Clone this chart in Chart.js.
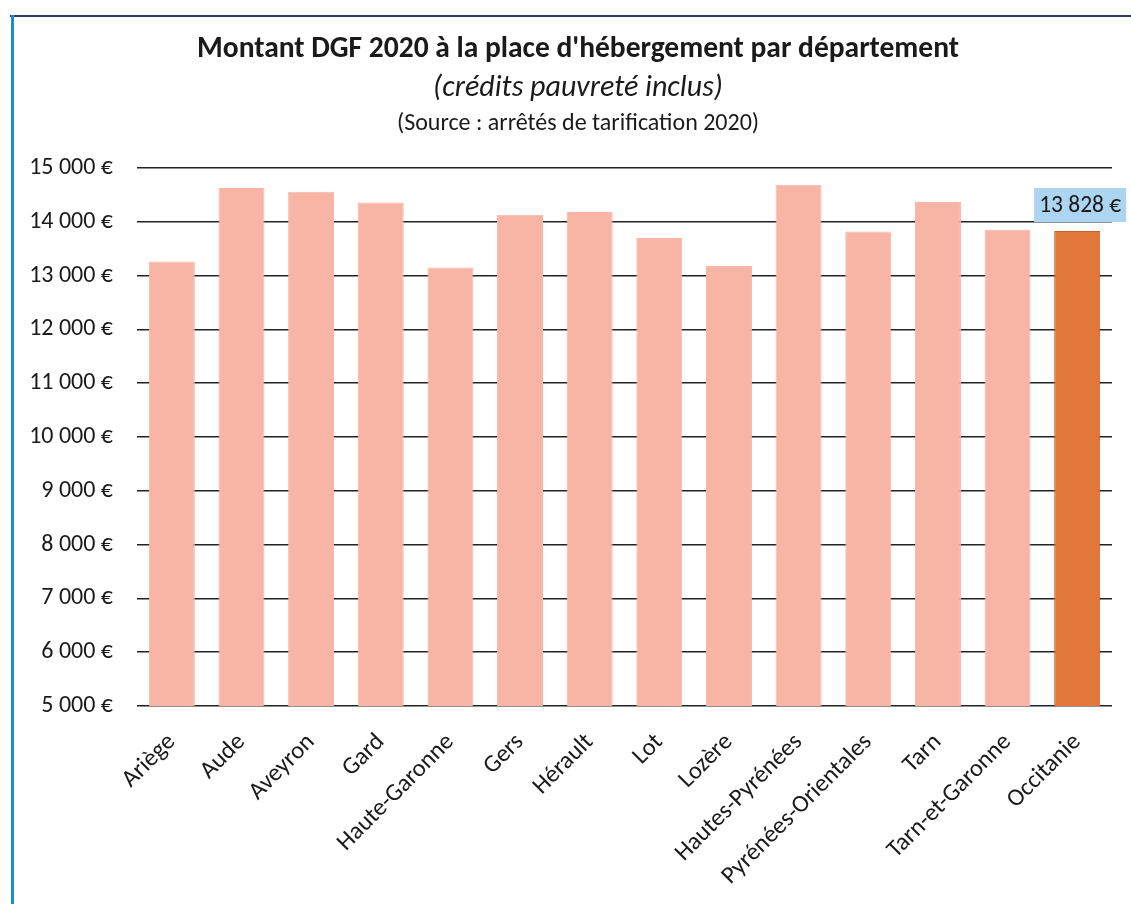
<!DOCTYPE html>
<html lang="fr">
<head>
<meta charset="utf-8">
<title>Montant DGF 2020 à la place d'hébergement par département</title>
<script src="https://cdn.jsdelivr.net/npm/chart.js@4.4.1/dist/chart.umd.min.js"></script>
<style>
  html, body { margin: 0; padding: 0; background: #fff; }
  #wrap { position: relative; width: 1131px; height: 904px; overflow: hidden; }
  #frameTop { position: absolute; left: 10px; top: 15px; width: 1121px; height: 0; border-top: 2px solid #2b3b6b; }
  #frameLeft { position: absolute; left: 11px; top: 15px; width: 0; height: 889px; border-left: 3px solid #1b8bd3; }
  canvas { position: absolute; left: 0; top: 0; }
</style>
</head>
<body>
<div id="wrap">
  <canvas id="dgfChart" width="1131" height="904"></canvas>
  <div id="frameTop"></div>
  <div id="frameLeft"></div>
</div>
<script>
const departements = [
  "Ariège", "Aude", "Aveyron", "Gard", "Haute-Garonne", "Gers", "Hérault",
  "Lot", "Lozère", "Hautes-Pyrénées", "Pyrénées-Orientales", "Tarn",
  "Tarn-et-Garonne", "Occitanie"
];
const montants = [
  13260, 14630, 14560, 14360, 13150, 14130, 14180,
  13700, 13180, 14690, 13820, 14370, 13850, 13828
];
const titres = [
  "Montant DGF 2020 à la place d'hébergement par département",
  "(crédits pauvreté inclus)",
  "(Source : arrêtés de tarification 2020)"
];
const yMin = 5000;
const yMax = 15000;
const yStep = 1000;

const couleurDept = "#f8b4a5";
const couleurRegion = "#e2773b";
const police = "Carlito, Lato, 'Liberation Sans', sans-serif";

function euro(v) {
  const s = Math.round(v).toString().replace(/\B(?=(\d{3})+(?!\d))/g, " ");
  return s + " €";
}

// the three title lines, drawn on top of the chart
const titlePlugin = {
  id: "titres",
  afterDraw(chart) {
    const c = chart.ctx;
    const cx = 578;
    c.save();
    c.fillStyle = "#1a1a1a";
    c.textAlign = "center";
    c.textBaseline = "middle";
    c.font = "bold 29.5px " + police;
    c.fillText(titres[0], cx, 50);
    c.font = "italic 30px " + police;
    c.fillText(titres[1], cx, 88);
    c.font = "24px " + police;
    c.fillText(titres[2], cx, 124);
    c.restore();
  }
};

// value label with a light blue box over the last bar
const labelPlugin = {
  id: "etiquette",
  afterDatasetsDraw(chart) {
    const meta = chart.getDatasetMeta(0);
    const i = montants.length - 1;
    const bar = meta.data[i];
    const c = chart.ctx;
    const txt = euro(montants[i]);
    c.save();
    c.font = "23.5px " + police;
    const w = c.measureText(txt).width + 10;
    const h = 34;
    const x = bar.x - w / 2 + 3;
    const y = bar.y - 9 - h;
    c.fillStyle = "#acd5f1";
    c.fillRect(x, y, w, h);
    c.fillStyle = "#1a1a1a";
    c.textAlign = "center";
    c.textBaseline = "middle";
    c.fillText(txt, x + w / 2, y + h / 2 + 1);
    c.restore();
  }
};

document.addEventListener("DOMContentLoaded", () => {
  const ctx = document.getElementById("dgfChart").getContext("2d");

  new Chart(ctx, {
    type: "bar",
    data: {
      labels: departements,
      datasets: [
        {
          label: "Montant DGF 2020",
          data: montants,
          backgroundColor: montants.map((v, i) => i === montants.length - 1 ? couleurRegion : couleurDept),
          borderColor: montants.map((v, i) => i === montants.length - 1 ? "#c9602a" : couleurDept),
          borderWidth: 1,
          categoryPercentage: 1,
          barPercentage: 0.66,
        },
      ],
    },
    options: {
      responsive: false,
      animation: false,
      layout: {
        padding: { top: 168, right: 19, left: 20, bottom: 0 },
      },
      plugins: {
        legend: { display: false },
        title: { display: false },
        tooltip: { enabled: false },
      },
      scales: {
        y: {
          min: yMin,
          max: yMax,
          afterFit(scale) { scale.width = 117; },
          ticks: {
            stepSize: yStep,
            padding: 24,
            color: "#1a1a1a",
            font: { size: 24, family: police },
            callback: (v) => euro(v),
          },
          grid: {
            color: "#222",
            lineWidth: 1.5,
            drawTicks: false,
          },
          border: { display: false },
        },
        x: {
          afterFit(scale) { scale.height = 198; },
          ticks: {
            autoSkip: false,
            maxRotation: 45,
            minRotation: 45,
            padding: 14,
            color: "#1a1a1a",
            font: { size: 24.5, family: police },
          },
          grid: { display: false },
          border: { display: false },
        },
      },
    },
    plugins: [titlePlugin, labelPlugin],
  });
});
</script>
</body>
</html>
